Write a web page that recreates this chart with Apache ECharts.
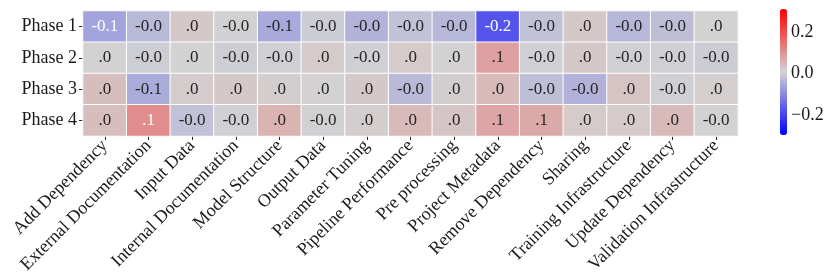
<!DOCTYPE html>
<html>
<head>
    <meta charset="utf-8">
    <script src="https://cdn.jsdelivr.net/npm/echarts@6/dist/echarts.min.js"></script>
    <title>Phase heatmap</title>
    <style>
        html, body { margin: 0; padding: 0; background: #fff; }
    </style>
</head>
<body>
    <div id="main" style="width: 831px;height:280px;"></div>
    <script type="text/javascript">
    var phases = ['Phase 1', 'Phase 2', 'Phase 3', 'Phase 4'];
    var categories = ['Add Dependency', 'External Documentation', 'Input Data', 'Internal Documentation',
        'Model Structure', 'Output Data', 'Parameter Tuning', 'Pipeline Performance', 'Pre processing',
        'Project Metadata', 'Remove Dependency', 'Sharing', 'Training Infrastructure',
        'Update Dependency', 'Validation Infrastructure'];

    var phase1 = [-0.068, -0.037, 0.015, -0.003, -0.06, -0.01, -0.045, -0.025, -0.04, -0.18, -0.025, 0.015, -0.04, -0.03, 0.002];
    var phase2 = [0.003, -0.008, 0.002, -0.008, -0.005, 0.012, -0.004, 0.012, 0.003, 0.072, -0.004, 0.015, -0.005, -0.006, -0.01];
    var phase3 = [0.03, -0.055, 0.01, 0.015, 0.008, 0.003, 0.015, -0.035, 0.008, 0.035, -0.03, -0.048, 0.022, -0.006, 0.007];
    var phase4 = [0.03, 0.1, -0.025, -0.005, 0.045, -0.003, 0.008, 0.035, 0.02, 0.065, 0.06, 0.012, 0.012, 0.035, -0.002];
    var rows = [phase1, phase2, phase3, phase4];

    var vmin = -0.3, vmax = 0.3;
    var cmap = [[0, 0, 255], [211, 211, 211], [255, 0, 0]];
    var font = "'Liberation Serif', 'DejaVu Serif', serif";

    // same colour ramp as the visualMap, used to pick white or dark annotation text
    function colorOf(v) {
        var t = (v - vmin) / (vmax - vmin) * 2;
        var i = t < 1 ? 0 : 1;
        var f = t - i;
        return cmap[i].map(function (c, k) { return c + (cmap[i + 1][k] - c) * f; });
    }
    function lum(rgb) {
        var l = rgb.map(function (c) {
            c = c / 255;
            return c <= 0.03928 ? c / 12.92 : Math.pow((c + 0.055) / 1.055, 2.4);
        });
        return 0.2126 * l[0] + 0.7152 * l[1] + 0.0722 * l[2];
    }

    var data = [];
    rows.forEach(function (row, i) {
        row.forEach(function (v, j) {
            data.push({
                value: [j, i, v],
                label: { color: lum(colorOf(v)) < 0.408 ? '#ffffff' : '#262626' }
            });
        });
    });

    var myChart = echarts.init(document.getElementById('main'));
    myChart.setOption({
        animation: false,
        textStyle: { fontFamily: font },
        grid: [
            { left: 83, top: 11, width: 655, height: 125 },
            { left: 780, top: 11, width: 7, height: 125 }
        ],
        xAxis: [{
            type: 'category',
            data: categories,
            axisLine: { show: false },
            axisTick: { show: true, alignWithLabel: true, length: 4, lineStyle: { color: '#262626' } },
            axisLabel: { rotate: 45, fontFamily: font, fontSize: 18, color: '#1a1a1a', margin: 7, interval: 0 },
            splitLine: { show: false }
        }, {
            gridIndex: 1, type: 'value', show: false
        }],
        yAxis: [{
            type: 'category',
            data: phases,
            inverse: true,
            axisLine: { show: false },
            axisTick: { show: true, alignWithLabel: true, length: 4, lineStyle: { color: '#262626' } },
            axisLabel: { fontFamily: font, fontSize: 18, color: '#1a1a1a', margin: 6 },
            splitLine: { show: false }
        }, {
            gridIndex: 1,
            type: 'value',
            position: 'right',
            min: vmin,
            max: vmax,
            axisLine: { show: false },
            splitLine: { show: false },
            axisTick: { show: true, length: 4, customValues: [-0.2, 0, 0.2], lineStyle: { color: '#262626' } },
            axisLabel: {
                customValues: [-0.2, 0, 0.2],
                fontFamily: font, fontSize: 18, color: '#1a1a1a', margin: 4,
                formatter: function (v) { return v.toFixed(1).replace('-', '\u2212'); }
            }
        }],
        visualMap: {
            type: 'continuous',
            min: vmin,
            max: vmax,
            seriesIndex: 0,
            dimension: 2,
            calculable: false,
            left: 780,
            top: 9,
            padding: 0,
            itemWidth: 7,
            itemHeight: 126,
            text: null,
            inRange: { color: ['#0000ff', '#d3d3d3', '#ff0000'] }
        },
        series: [{
            type: 'heatmap',
            data: data,
            itemStyle: { borderColor: '#ffffff', borderWidth: 1 },
            label: {
                show: true,
                fontFamily: font,
                fontSize: 17,
                formatter: function (p) {
                    var s = p.value[2].toFixed(1);
                    return s.indexOf('0.') === 0 ? s.slice(1) : s;
                }
            },
            emphasis: { disabled: true }
        }]
    });
    </script>
</body>
</html>
